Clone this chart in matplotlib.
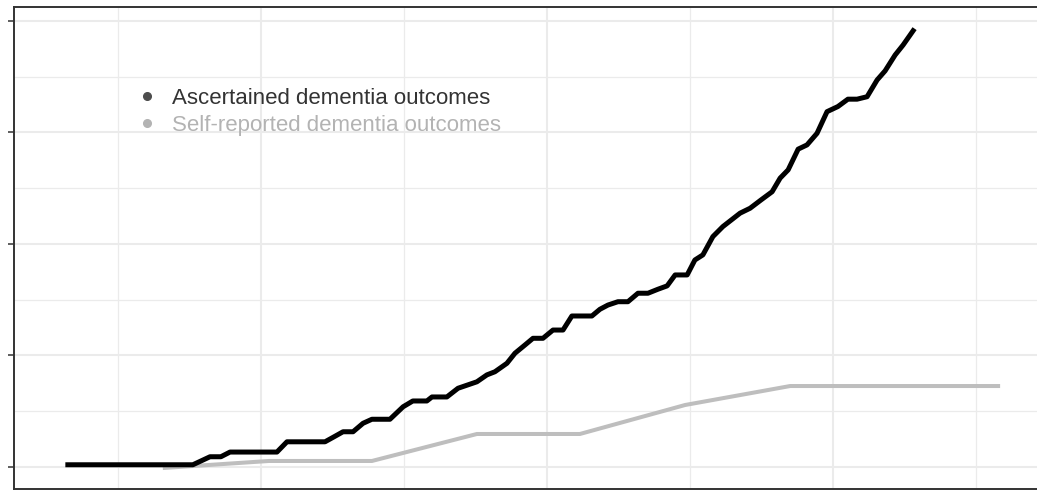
import matplotlib
matplotlib.use("Agg")
import matplotlib.pyplot as plt
from matplotlib.lines import Line2D
from matplotlib.ticker import MultipleLocator

# Ascertained dementia outcomes (cumulative incidence, %)
asc_x = [3.25, 7.62, 8.22, 8.60, 8.92, 10.56, 10.91, 12.24, 12.55, 12.87,
         13.22, 13.57, 13.88, 14.51, 14.97, 15.31, 15.80, 15.98, 16.50, 16.89,
         17.55, 17.90, 18.18, 18.60, 18.88, 19.23, 19.51, 19.86, 20.21, 20.56,
         20.87, 21.57, 21.85, 22.13, 22.48, 22.83, 23.18, 23.53, 23.88, 24.20,
         24.48, 24.90, 25.17, 25.45, 25.80, 26.15, 26.75, 27.10, 27.48, 27.87,
         28.15, 28.43, 28.78, 29.09, 29.44, 29.79, 30.17, 30.52, 30.84, 31.19,
         31.54, 31.82, 32.17, 32.45, 32.80]
asc_y = [0.10, 0.10, 0.46, 0.46, 0.67, 0.67, 1.13, 1.13, 1.35, 1.58,
         1.58, 1.96, 2.14, 2.14, 2.70, 2.96, 2.96, 3.14, 3.14, 3.53,
         3.82, 4.13, 4.27, 4.65, 5.10, 5.47, 5.77, 5.77, 6.14, 6.14,
         6.77, 6.77, 7.07, 7.26, 7.41, 7.41, 7.79, 7.79, 7.97, 8.12,
         8.61, 8.61, 9.28, 9.51, 10.33, 10.78, 11.38, 11.60, 11.97, 12.34,
         12.95, 13.32, 14.25, 14.44, 14.96, 15.93, 16.16, 16.49, 16.49, 16.60,
         17.35, 17.76, 18.47, 18.92, 19.56]

# Self-reported dementia outcomes
self_x = [6.64, 10.28, 13.88, 17.55, 21.15, 24.83, 28.50, 32.13, 35.77]
self_y = [-0.04, 0.27, 0.27, 1.48, 1.48, 2.78, 3.63, 3.63, 3.63]

labels = ["Ascertained dementia outcomes", "Self-reported dementia outcomes"]
line_colors = ["#000000", "#BEBEBE"]
marker_colors = ["#4D4D4D", "#B3B3B3"]
text_colors = ["#333333", "#B3B3B3"]

plt.rcParams["font.family"] = ["Liberation Sans", "DejaVu Sans"]

fig = plt.figure(figsize=(10.37, 4.90), dpi=100)
ax = fig.add_axes([13.5 / 1037, 1.5 / 490, 1 - 13.5 / 1037, 481 / 490])

ax.plot(self_x, self_y, color=line_colors[1], linewidth=2.9,
        solid_joinstyle="round", zorder=3)
ax.plot(asc_x, asc_y, color=line_colors[0], linewidth=3.6,
        solid_joinstyle="round", zorder=4)

ax.set_xlim(1.35, 37.13)
ax.set_ylim(-0.964, 20.60)

ax.xaxis.set_major_locator(MultipleLocator(10))
ax.xaxis.set_minor_locator(MultipleLocator(5))
ax.yaxis.set_major_locator(MultipleLocator(5))
ax.yaxis.set_minor_locator(MultipleLocator(2.5))
ax.grid(which="major", color="#EBEBEB", linewidth=1.5, zorder=0)
ax.grid(which="minor", color="#EBEBEB", linewidth=0.9, zorder=0)
ax.set_axisbelow(True)

ax.tick_params(axis="y", which="major", length=4, width=1.1, color="#333333",
               labelleft=False)
ax.tick_params(axis="y", which="minor", length=0)
ax.tick_params(axis="x", which="both", length=0, labelbottom=False)

for side in ["left", "top", "bottom"]:
    ax.spines[side].set_color("#333333")
    ax.spines[side].set_linewidth(1.4)
ax.spines["right"].set_visible(False)

handles = [Line2D([], [], linestyle="none", marker="o", markersize=5.5,
                  markerfacecolor=c, markeredgecolor=c) for c in marker_colors]
leg = ax.legend(handles, labels, loc="upper left",
                bbox_to_anchor=(0.1217, 0.833), frameon=False,
                fontsize=16, handletextpad=0.72, labelspacing=0.27,
                borderpad=0, borderaxespad=0, handlelength=0.8)
for t, c in zip(leg.get_texts(), text_colors):
    t.set_color(c)

fig.savefig("out.png", dpi=100)
